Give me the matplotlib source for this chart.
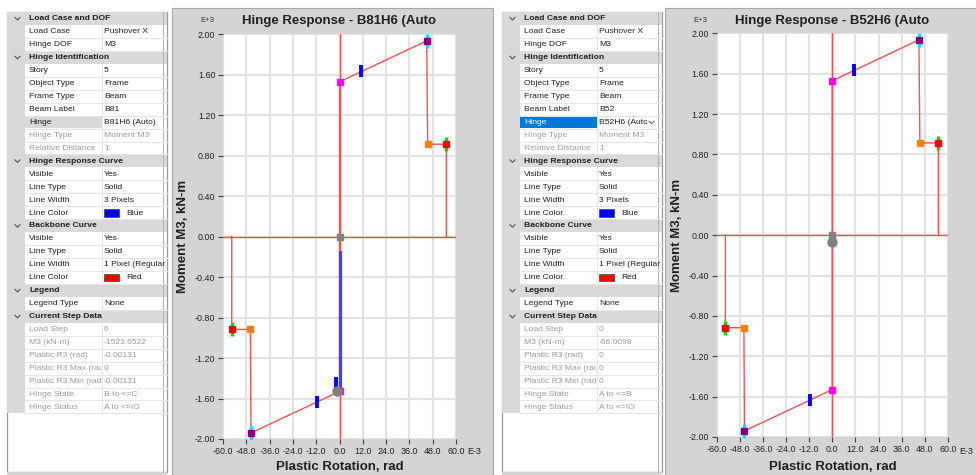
import numpy as np
import matplotlib.pyplot as plt
from matplotlib.patches import Rectangle
from matplotlib.transforms import Bbox, TransformedBbox

plt.rcParams['font.family'] = ['Liberation Sans', 'DejaVu Sans']
plt.rcParams['axes.unicode_minus'] = False

# ---- hinge backbone key points (rotation in E-3 rad, moment in E+3 kN-m) ----
# index 0 = negative branch, index 1 = positive branch
b_rot = [0.0, 0.0]          # point B (yield)
b_mom = [-1.530, 1.530]
c_rot = [-45.6, 44.9]       # point C
c_mom = [-1.940, 1.935]
d_rot = [-45.9, 45.4]       # point D
d_mom = [-0.917, 0.914]
e_rot = [-55.5, 55.0]       # point E
e_mom = [-0.917, 0.914]
io_rot = [-11.6, 11.2]      # IO acceptance markers
io_mom = [-1.632, 1.635]

# ---- hinge response curves ----
resp1_rot = [0.0, 0.0]
resp1_mom = [-0.15, -1.50]
resp1_bar_rot = [-1.8]
resp1_bar_mom = [-1.445]
resp2_rot = []
resp2_mom = []

# current step values (rad, kN-m)
step1_r3, step1_m3 = -0.00131, -1523.6522
step2_r3, step2_m3 = 0.0, -66.0098

x_ticks = [-60, -48, -36, -24, -12, 0, 12, 24, 36, 48, 60]
y_ticks = [-2.0, -1.6, -1.2, -0.8, -0.4, 0.0, 0.4, 0.8, 1.2, 1.6, 2.0]

# ---- property grid contents ----
row_names = ["Load Case and DOF", "Load Case", "Hinge DOF",
             "Hinge Identification", "Story", "Object Type", "Frame Type",
             "Beam Label", "Hinge", "Hinge Type", "Relative Distance",
             "Hinge Response Curve", "Visible", "Line Type", "Line Width", "Line Color",
             "Backbone Curve", "Visible", "Line Type", "Line Width", "Line Color",
             "Legend", "Legend Type",
             "Current Step Data", "Load Step", "M3 (kN-m)", "Plastic R3 (rad)",
             "Plastic R3 Max (rad)", "Plastic R3 Min (rad)", "Hinge State", "Hinge Status"]
row_kind = ["H", "N", "N",
            "H", "N", "N", "N", "N", "N", "D", "D",
            "H", "N", "N", "N", "N",
            "H", "N", "N", "N", "N",
            "H", "N",
            "H", "D", "D", "D", "D", "D", "D", "D"]
values1 = ["", "Pushover X", "M3",
           "", "5", "Frame", "Beam", "B81", "B81H6 (Auto)", "Moment M3", "1",
           "", "Yes", "Solid", "3 Pixels", "Blue",
           "", "Yes", "Solid", "1 Pixel (Regular)", "Red",
           "", "None",
           "", "6", "-1523.6522", "-0.00131", "0", "-0.00131", "B to <=C", "A to <=IO"]
values2 = ["", "Pushover X", "M3",
           "", "5", "Frame", "Beam", "B52", "B52H6 (Auto)", "Moment M3", "1",
           "", "Yes", "Solid", "3 Pixels", "Blue",
           "", "Yes", "Solid", "1 Pixel (Regular)", "Red",
           "", "None",
           "", "0", "-66.0098", "0", "0", "0", "A to <=B", "A to <=IO"]
swatch = {"Blue": "#0000ff", "Red": "#ff0000"}

PANEL = "#d4d4d4"
HEAD = "#d9d9d9"
DIM = "#9c9c9c"
SEP = "#e6e6e6"

fig = plt.figure(figsize=(9.76, 4.75), dpi=100)
bg = fig.add_axes([0, 0, 1, 1])
bg.set_xlim(0, 976)
bg.set_ylim(475, 0)
bg.axis('off')


def cell_text(x, y, s, clip, **kw):
    # text cut off at the cell border, like the property grid does
    t = bg.text(x, y, s, va='center', ha='left', fontsize=6.1, clip_on=True, **kw)
    box = Bbox.from_extents(clip[0], clip[1], clip[0] + clip[2], clip[1] + clip[3])
    t.set_clip_box(TransformedBbox(box, bg.transData))
    return t


def draw_grid(x0, values, focused):
    top, rh, w = 12, 12.95, 160
    bg.add_patch(Rectangle((x0, top), w, 460, fc='white', ec='#9a9a9a', lw=0.9))
    bg.add_patch(Rectangle((x0, top + 460), w, 3, fc=PANEL, ec='none'))
    n = len(row_names)
    bg.add_patch(Rectangle((x0, top), 18, n * rh, fc=HEAD, ec='none'))
    bg.plot([x0 + w - 4, x0 + w - 4], [top, top + 460], color='#b0b0b0', lw=0.7)
    for i in range(n):
        y = top + i * rh
        yc = y + rh / 2 + 0.3
        name, kind, val = row_names[i], row_kind[i], values[i]
        if kind == "H":
            bg.add_patch(Rectangle((x0, y), w, rh, fc=HEAD, ec='none'))
            bg.plot([x0 + 8, x0 + 10.5, x0 + 13], [yc - 1.3, yc + 1.2, yc - 1.3],
                     color='#505050', lw=0.8)
            bg.text(x0 + 22, yc, name, va='center', ha='left', fontsize=6.1,
                    fontweight='bold', color='#202020')
            continue
        bg.plot([x0 + 18, x0 + w], [y + rh, y + rh], color=SEP, lw=0.7)
        bg.plot([x0 + 95, x0 + 95], [y, y + rh], color=SEP, lw=0.7)
        txt = DIM if kind == "D" else '#202020'
        name_col = txt
        if name == "Hinge":
            if focused:
                bg.add_patch(Rectangle((x0 + 18, y + 0.5), 77, rh - 1, fc='#0078d7', ec='none'))
                name_col = 'white'
            else:
                bg.add_patch(Rectangle((x0 + 18, y + 0.5), 77, rh - 1, fc='#d9d9d9', ec='none'))
        cell_text(x0 + 22, yc, name, (x0 + 18, y, 76, rh), color=name_col)
        vx = x0 + 97
        vclip_w = w - 97 - 1
        if name == "Hinge" and focused:
            vclip_w -= 13
            bg.plot([x0 + w - 13, x0 + w - 10.5, x0 + w - 8],
                    [yc - 1.2, yc + 1.2, yc - 1.2], color='#505050', lw=0.7)
        if val in swatch and name == "Line Color":
            bg.add_patch(Rectangle((vx, y + 2.5), 15, rh - 5, fc=swatch[val],
                                   ec='#404040', lw=0.5))
            vx += 22
        cell_text(vx, yc, val, (x0 + 96, y, vclip_w, rh), color=txt)


def draw_chart(rect, panel, title, r3, m3, resp_rot, resp_mom, bar_rot, bar_mom):
    bg.add_patch(Rectangle((panel[0], panel[1]), panel[2], panel[3], fc=PANEL,
                           ec='#a8a8a8', lw=0.8))
    left, right, top, bottom = rect
    ax = fig.add_axes([left / 976, (475 - bottom) / 475,
                       (right - left) / 976, (bottom - top) / 475])
    ax.set_xlim(-60, 60)
    ax.set_ylim(-2, 2)
    ax.set_xticks(x_ticks)
    ax.set_yticks(y_ticks)
    ax.set_xticklabels(["%.1f" % v for v in x_ticks])
    ax.set_yticklabels(["%.2f" % v for v in y_ticks])
    ax.grid(color='#e2e2e2', lw=1.5)
    ax.set_axisbelow(True)
    for s in ax.spines.values():
        s.set_visible(False)
    ax.tick_params(length=3.5, width=0.8, color='#404040', labelsize=6.4,
                   labelcolor='#202020', pad=2)

    # reference axes through the origin
    ax.axhline(0, color='#ff4d4d', lw=1.0, zorder=2)
    ax.axvline(0, color='#ff4d4d', lw=1.0, zorder=2)

    # backbone path E- .. D- .. C- .. B- .. B+ .. C+ .. D+ .. E+
    path_rot = [e_rot[0], e_rot[0], d_rot[0], c_rot[0], b_rot[0],
                b_rot[1], c_rot[1], d_rot[1], e_rot[1], e_rot[1]]
    path_mom = [0.0, e_mom[0], d_mom[0], c_mom[0], b_mom[0],
                b_mom[1], c_mom[1], d_mom[1], e_mom[1], 0.0]
    ax.plot(path_rot, path_mom, color='#ff4d4d', lw=1.0, zorder=3)

    # acceptance markers: LS (cyan) at C, CP (green) at E, IO (blue)
    ax.plot(c_rot, c_mom, ls='none', marker='|', ms=10, mew=2.5, color='#00e5ff', zorder=4)
    ax.plot(e_rot, e_mom, ls='none', marker='|', ms=10, mew=2.5, color='#00e000', zorder=4)
    ax.plot(io_rot, io_mom, ls='none', marker='|', ms=8.5, mew=2.8, color='#0000ff', zorder=6)

    ax.plot(b_rot, b_mom, ls='none', marker='s', ms=5, color='#ff00ff', zorder=5)
    ax.plot(c_rot, c_mom, ls='none', marker='s', ms=5, color='#800080', zorder=5)
    ax.plot(d_rot, d_mom, ls='none', marker='s', ms=5, color='#ff8000', zorder=5)
    ax.plot(e_rot, e_mom, ls='none', marker='s', ms=5, color='#ff0000', zorder=5)

    # hinge response
    if resp_rot:
        ax.plot(resp_rot, resp_mom, color='#3f3fff', lw=2.3, zorder=6)
    if bar_rot:
        ax.plot(bar_rot, bar_mom, ls='none', marker='|', ms=8.5, mew=2.8,
                color='#0000ff', zorder=6)
    ax.plot([0], [0], ls='none', marker='s', ms=5, color='#808080', zorder=7)
    ax.plot([r3 * 1000], [m3 / 1000], ls='none', marker='o', ms=6.5,
            color='#808080', zorder=8)

    cx = (left + right) / 2
    bg.text(cx, 21, title, ha='center', va='center', fontsize=9.5,
            fontweight='bold', color='#202020')
    bg.text(left - 16, 21, "E+3", ha='center', va='center', fontsize=5.5, color='#303030')
    bg.text(right + 11, 452, "E-3", ha='left', va='center', fontsize=6.4, color='#202020')
    bg.text(left - 40, (top + bottom) / 2, "Moment M3, kN-m", rotation=90,
            ha='center', va='center', fontsize=9.5, fontweight='bold', color='#202020')
    bg.text(cx, 467, "Plastic Rotation, rad", ha='center', va='center',
            fontsize=9.5, fontweight='bold', color='#202020')
    return ax


draw_grid(7, values1, False)
draw_grid(502, values2, True)
draw_chart((223, 456, 34.3, 439), (172, 8, 321, 470), "Hinge Response - B81H6 (Auto",
           step1_r3, step1_m3, resp1_rot, resp1_mom, resp1_bar_rot, resp1_bar_mom)
draw_chart((716.7, 948, 33.3, 437), (665, 8, 314, 470), "Hinge Response - B52H6 (Auto",
           step2_r3, step2_m3, resp2_rot, resp2_mom, [], [])

fig.savefig("out.png", dpi=100)
